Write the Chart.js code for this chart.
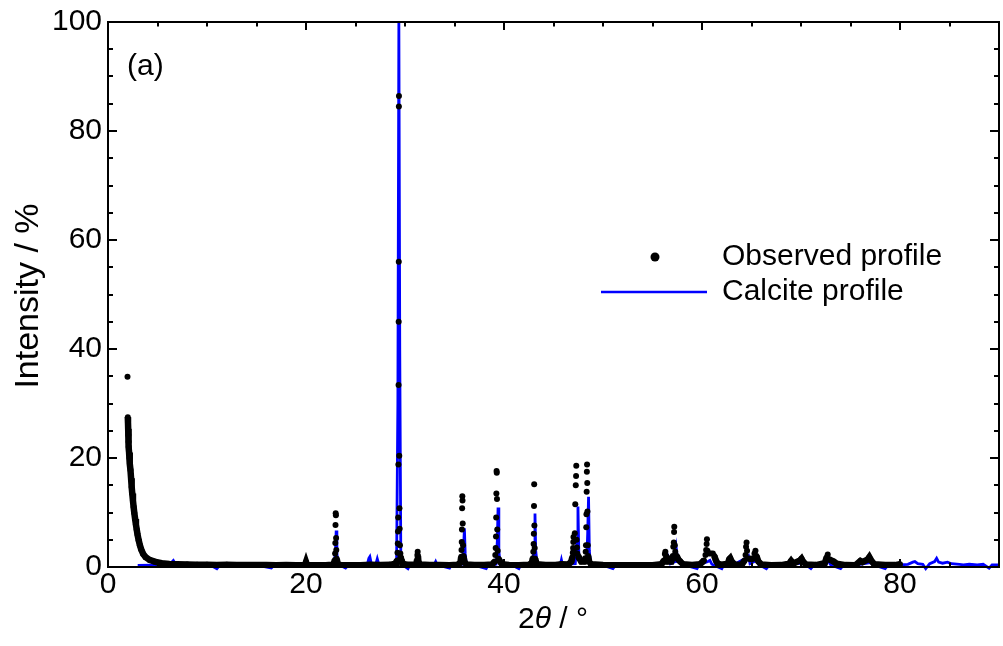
<!DOCTYPE html>
<html>
<head>
<meta charset="utf-8">
<script src="https://cdn.jsdelivr.net/npm/chart.js@4.4.1/dist/chart.umd.min.js"></script>
<style>
  html, body { margin: 0; padding: 0; background: #fff; }
  #wrap { width: 1003px; height: 646px; position: relative; }
</style>
</head>
<body>
<div id="wrap"><canvas id="xrd"></canvas></div>
<script>
// observed profile (2theta, intensity %)
const obsX = [
  1.97, 2.0, 2.02, 2.04, 2.06, 2.08, 2.1, 2.13, 2.17, 2.22, 2.27, 2.33, 2.39, 2.45, 2.52, 2.59, 2.66, 2.74, 2.82, 2.9, 2.99, 3.1, 3.22, 3.36, 3.55, 3.8, 4.2, 4.7, 5.4, 6.2, 7.0,
  8.0, 9.0, 10.0, 11.0, 12.0, 13.0, 14.0, 15.0, 16.0, 17.0, 18.0, 19.0, 19.9, 20.0, 20.1, 21.0, 22.0, 22.6, 22.8,
  22.92, 22.94, 22.96, 22.98, 23.0, 23.02, 23.04, 23.06, 23.1, 23.2,
  23.5, 24.5, 25.5, 26.5, 27.5, 28.5, 29.0, 29.1, 29.15, 29.2,
  29.24, 29.27, 29.29, 29.31, 29.33, 29.35, 29.36, 29.37, 29.38, 29.39, 29.42, 29.44, 29.46, 29.49, 29.53, 29.55, 29.6, 29.65, 29.7, 29.85,
  30.2, 31.0, 31.15, 31.22, 31.25, 31.28, 31.31, 31.35, 31.5,
  32.5, 33.5, 34.5, 35.3, 35.6,
  35.68, 35.71, 35.73, 35.75, 35.77, 35.79, 35.81, 35.83, 35.86, 35.9, 36.0, 36.2,
  37.0, 38.0, 38.8, 39.05,
  39.12, 39.16, 39.19, 39.21, 39.23, 39.25, 39.27, 39.29, 39.32, 39.36, 39.45, 39.6, 39.8,
  40.5, 41.5, 42.5, 42.8,
  42.92, 42.96, 42.99, 43.01, 43.03, 43.05, 43.07, 43.1, 43.15, 43.3,
  44.2, 45.2, 45.8, 46.5, 46.8,
  46.9, 46.95, 46.98, 47.0, 47.02, 47.05, 47.1, 47.15, 47.2, 47.25, 47.28, 47.3, 47.33, 47.36, 47.4, 47.5, 47.6, 47.8,
  48.1, 48.2, 48.25, 48.28, 48.31, 48.33, 48.35, 48.37, 48.39, 48.41, 48.43, 48.46, 48.5, 48.6, 48.8,
  50.0, 51.0, 52.0, 53.0, 54.0, 55.0, 55.9,
  56.15, 56.25, 56.3, 56.38, 56.5,
  56.9, 57.05, 57.1, 57.15, 57.18, 57.2, 57.25, 57.3, 57.45, 57.6, 57.8, 58.1,
  59.0, 59.8, 60.2, 60.35, 60.42, 60.47, 60.5, 60.55, 60.7, 60.9, 61.1, 61.25, 61.4, 61.6,
  62.0, 62.6, 62.75, 62.85, 63.0, 63.3,
  64.0, 64.3, 64.4, 64.45, 64.5, 64.55, 64.7, 65.2, 65.3, 65.4, 65.5, 65.7, 66.0,
  67.0, 68.0, 68.8, 69.0, 69.2, 69.9, 70.05, 70.2, 70.5,
  71.5, 72.4, 72.6, 72.7, 72.85, 73.3, 73.6, 74.5, 75.5, 76.0, 76.2, 76.75, 76.9, 77.05, 77.4, 78.5, 79.5, 80.0
];
const obsY = [
  34.9, 27.5, 26.5, 25.3, 24.2, 23.0, 22.0, 21.0, 20.0, 19.0, 17.8, 16.3, 14.7, 13.5, 12.2, 11.0, 9.9, 8.8, 7.8, 6.9, 5.9, 4.9, 4.0, 3.2, 2.4, 1.8, 1.3, 1.0, 0.7, 0.55, 0.5,
  0.45, 0.4, 0.42, 0.38, 0.4, 0.36, 0.38, 0.35, 0.37, 0.34, 0.36, 0.33, 0.35, 0.9, 0.35, 0.32, 0.33, 0.4, 0.6,
  1.3, 2.5, 4.4, 7.7, 9.85, 9.5, 5.3, 3.1, 1.5, 0.6,
  0.35, 0.33, 0.32, 0.4, 0.38, 0.4, 0.6, 0.8, 1.0, 1.2,
  2.6, 4.3, 6.5, 9.1, 18.8, 33.4, 45.0, 56.0, 84.5, 86.4, 20.4, 10.8, 7.0, 4.0, 2.5, 1.9, 1.5, 1.2, 0.9, 0.6,
  0.4, 0.4, 0.6, 1.3, 2.2, 2.8, 2.0, 1.0, 0.45,
  0.35, 0.36, 0.34, 0.4, 0.8,
  1.9, 3.1, 4.6, 6.9, 10.8, 13.0, 12.2, 8.0, 4.0, 2.0, 1.0, 0.45,
  0.35, 0.38, 0.45, 1.0,
  2.2, 3.5, 5.6, 9.1, 13.5, 17.6, 17.3, 12.5, 6.9, 3.0, 1.5, 1.0, 0.5,
  0.35, 0.33, 0.4, 0.7,
  1.6, 2.8, 4.2, 6.1, 11.2, 15.2, 7.6, 3.5, 1.5, 0.5,
  0.35, 0.36, 0.5, 0.45, 1.0,
  1.8, 2.6, 3.5, 4.6, 5.5, 3.0, 2.5, 6.2, 11.5, 15.0, 16.7, 18.6, 5.0, 3.6, 2.5, 2.0, 1.6, 1.0,
  1.0, 1.6, 2.8, 4.0, 7.3, 9.7, 13.8, 17.5, 18.8, 15.4, 10.2, 4.0, 2.0, 1.0, 0.5,
  0.35, 0.34, 0.32, 0.33, 0.34, 0.33, 0.5,
  1.2, 2.4, 2.8, 2.0, 1.0,
  1.0, 2.0, 3.7, 4.5, 6.4, 7.4, 4.0, 2.8, 2.0, 1.4, 1.0, 0.5,
  0.35, 0.5, 1.2, 2.2, 3.1, 4.2, 5.1, 3.0, 2.5, 2.5, 2.5, 2.0, 1.2, 0.6,
  0.4, 0.6, 1.4, 1.6, 1.0, 0.45,
  0.4, 1.2, 2.2, 3.7, 4.5, 3.0, 1.5, 1.5, 2.5, 3.0, 2.0, 1.0, 0.45,
  0.34, 0.35, 0.6, 1.1, 0.6, 1.2, 1.5, 1.0, 0.45,
  0.35, 0.7, 1.8, 2.3, 1.4, 1.0, 0.6, 0.35, 0.34, 1.1, 0.9, 1.4, 1.8, 1.3, 0.5, 0.36, 0.35, 0.5
];

// calcite calculated profile
const calX = [
  3.0, 4.5, 6.0, 6.4, 6.6, 6.8, 7.5, 9.0, 10.5, 11.0, 11.3, 13.0, 15.0, 16.5, 16.8, 18.5, 20.5, 22.5,
  22.85, 22.98, 23.05, 23.12, 23.25, 24.0, 24.3, 25.5, 26.2, 26.35, 26.45, 26.6, 27.05, 27.2, 27.35, 28.5,
  29.15, 29.28, 29.38, 29.47, 29.58, 29.75, 30.3, 30.5, 31.2, 31.35, 31.5, 32.5, 33.0, 33.1, 33.25, 34.5, 34.7,
  35.8, 35.92, 36.0, 36.08, 36.2, 37.0, 38.2, 38.4, 39.2, 39.33, 39.4, 39.48, 39.6, 40.8, 41.5, 41.7,
  42.9, 43.05, 43.13, 43.2, 43.35, 44.5, 45.7, 45.8, 45.9, 47.2, 47.38, 47.47, 47.56, 47.8,
  48.35, 48.45, 48.54, 48.62, 48.75, 50.0, 51.0, 51.3, 53.0, 55.0, 56.4, 56.6, 56.8, 57.3, 57.42, 57.55, 57.8, 58.0,
  59.5, 59.7, 60.6, 60.8, 61.0, 62.0, 62.2, 63.0, 63.2, 64.6, 64.7, 64.85, 65.6, 65.7, 66.5, 66.8, 68.0,
  69.2, 70.3, 71.0, 71.3, 72.8, 73.0, 74.0, 74.3, 75.5, 77.0, 77.3, 78.5, 78.8, 80.0,
  80.8, 81.3, 81.5, 81.8, 82.3, 82.6, 83.0, 83.5, 83.7, 83.9, 84.3, 84.8, 85.2, 86.0, 86.4, 87.0, 87.8, 88.4, 89.0, 89.3, 90.0
];
const calY = [
  0.3, 0.35, 0.4, 0.8, 1.2, 0.6, 0.4, 0.35, 0.2, -0.3, 0.35, 0.4, 0.35, -0.2, 0.4, 0.35, 0.4, 0.4,
  0.6, 3.0, 6.7, 2.5, 0.5, -0.2, 0.4, 0.35, 0.5, 1.6, 1.9, 0.6, 0.5, 1.5, 0.5, 0.4,
  0.6, 30.0, 100.0, 40.0, 1.0, 0.4, -0.3, 0.4, 0.5, 1.8, 0.5, 0.35, 0.6, 1.0, 0.4, -0.2, 0.4,
  0.5, 3.5, 7.1, 2.5, 0.5, 0.35, -0.3, 0.4, 0.5, 5.0, 10.9, 3.0, 0.5, 0.35, -0.3, 0.4,
  0.5, 4.0, 9.8, 3.0, 0.5, 0.35, 0.5, 1.3, 0.5, 0.6, 5.0, 11.1, 2.0, 0.8,
  0.8, 6.0, 12.9, 3.0, 0.5, 0.35, -0.3, 0.4, 0.35, 0.35, 0.9, 1.8, 0.6, 1.0, 3.1, 1.0, 1.0, 0.5,
  -0.3, 0.4, 1.0, 1.2, 0.5, -0.3, 0.4, 1.0, 0.4, 1.8, 2.0, 0.6, 1.3, 0.5, -0.3, 0.4, 0.35,
  0.6, 0.7, -0.3, 0.4, 1.0, 0.4, -0.3, 0.4, 0.35, 0.8, 0.4, -0.3, 0.4, 0.4,
  0.5, 0.9, 1.0, 0.6, 0.5, -0.3, 0.6, 1.0, 1.6, 0.9, 0.7, 0.9, 0.6, 0.5, 0.4, 0.5, 0.4, 0.5, -0.2, 0.4, 0.4
];

const xTicks = [0, 20, 40, 60, 80];
const yTicks = [0, 20, 40, 60, 80, 100];
const FONT = '"Liberation Sans", Arial, sans-serif';

// ticks pointing inward on all four sides + frame + labels
const decorPlugin = {
  id: 'decor',
  afterDraw(chart) {
    const ctx = chart.ctx;
    const a = chart.chartArea;
    const xs = chart.scales.x, ys = chart.scales.y;
    ctx.save();
    ctx.strokeStyle = '#000';
    ctx.lineWidth = 2;
    ctx.strokeRect(a.left, a.top, a.right - a.left, a.bottom - a.top);
    ctx.beginPath();
    for (let v = 5; v < 90; v += 5) {
      const px = Math.round(xs.getPixelForValue(v));
      const len = v % 20 === 0 ? 8 : 4.5;
      ctx.moveTo(px, a.bottom); ctx.lineTo(px, a.bottom - len);
      ctx.moveTo(px, a.top); ctx.lineTo(px, a.top + len);
    }
    for (let v = 5; v < 100; v += 5) {
      const py = Math.round(ys.getPixelForValue(v));
      const len = v % 20 === 0 ? 9 : 5;
      ctx.moveTo(a.left, py); ctx.lineTo(a.left + len, py);
      ctx.moveTo(a.right, py); ctx.lineTo(a.right - len, py);
    }
    ctx.stroke();

    ctx.fillStyle = '#000';
    ctx.font = '30px ' + FONT;
    ctx.textBaseline = 'middle';
    ctx.textAlign = 'left';
    ctx.fillText('(a)', 127, 67);

    // legend
    const ds = chart.data.datasets;
    ctx.beginPath();
    ctx.arc(655, 257, 4.5, 0, Math.PI * 2);
    ctx.fillStyle = ds[0].pointBackgroundColor;
    ctx.fill();
    ctx.strokeStyle = ds[1].borderColor;
    ctx.lineWidth = 2.5;
    ctx.beginPath();
    ctx.moveTo(601, 292); ctx.lineTo(707, 292);
    ctx.stroke();
    ctx.fillStyle = '#000';
    ctx.fillText(ds[0].label, 722, 257);
    ctx.fillText(ds[1].label, 722, 292);

    // x title with italic theta
    const parts = [['2', '30px ' + FONT], ['\u03b8', 'italic 30px ' + FONT], [' / \u00b0', '30px ' + FONT]];
    let w = 0;
    parts.forEach(p => { ctx.font = p[1]; w += ctx.measureText(p[0]).width; });
    let x = 553 - w / 2;
    parts.forEach(p => { ctx.font = p[1]; ctx.fillText(p[0], x, 620); x += ctx.measureText(p[0]).width; });

    // y title
    ctx.font = '34px ' + FONT;
    ctx.translate(29, 296);
    ctx.rotate(-Math.PI / 2);
    ctx.textAlign = 'center';
    ctx.fillText('Intensity / %', 0, 0);
    ctx.restore();
  }
};

const chart = new Chart(document.getElementById('xrd'), {
  type: 'scatter',
  data: {
    datasets: [
      {
        label: 'Observed profile',
        data: obsX.map((x, i) => ({ x: x, y: obsY[i] })),
        showLine: true,
        borderColor: '#000',
        borderWidth: 6.5,
        pointRadius: 3,
        pointBorderWidth: 0,
        pointBackgroundColor: '#000',
        segment: {
          // the dense background reads as a solid band; peaks stay as separate dots
          borderColor: c => {
            const top = Math.max(c.p0.parsed.y, c.p1.parsed.y);
            return (top > 30 || (c.p0.parsed.x > 5 && top > 2.1)) ? 'rgba(0,0,0,0)' : undefined;
          }
        }
      },
      {
        label: 'Calcite profile',
        data: calX.map((x, i) => ({ x: x, y: calY[i] })),
        showLine: true,
        borderColor: '#0000ff',
        borderWidth: 2.8,
        pointRadius: 0,
        clip: 4
      }
    ]
  },
  options: {
    responsive: true,
    maintainAspectRatio: false,
    animation: false,
    layout: { padding: { top: 22, right: 1, left: 0, bottom: 0 } },
    plugins: {
      legend: { display: false },
      tooltip: { enabled: false }
    },
    scales: {
      x: {
        type: 'linear',
        min: 0,
        max: 90,
        afterBuildTicks: s => { s.ticks = xTicks.map(v => ({ value: v })); },
        afterFit: s => { s.height = 79; },
        grid: { display: false, drawTicks: false },
        border: { display: false },
        ticks: { color: '#000', font: { family: FONT, size: 30, lineHeight: 1 }, padding: 3, maxRotation: 0 }
      },
      y: {
        type: 'linear',
        min: 0,
        max: 100,
        afterBuildTicks: s => { s.ticks = yTicks.map(v => ({ value: v })); },
        afterFit: s => { s.width = 108; },
        grid: { display: false, drawTicks: false },
        border: { display: false },
        ticks: { color: '#000', font: { family: FONT, size: 30, lineHeight: 1 }, padding: 6 }
      }
    }
  },
  plugins: [decorPlugin]
});
</script>
</body>
</html>
